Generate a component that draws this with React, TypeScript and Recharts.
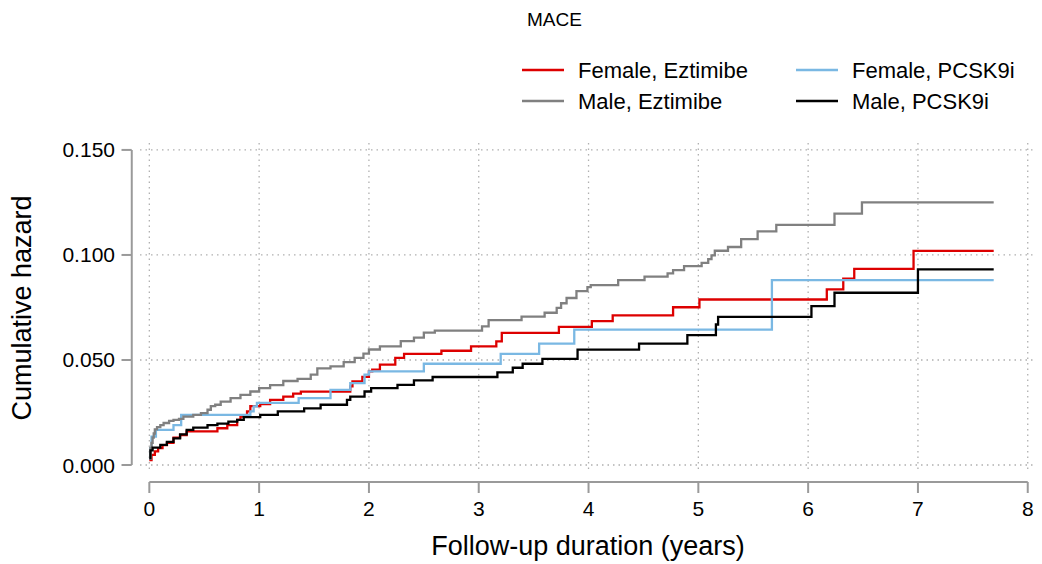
import React from 'react';
import { LineChart, Line, XAxis, YAxis, CartesianGrid, ReferenceLine, Label } from 'recharts';

// ---------- data ----------
const femEzeT = [0, 0.02, 0.05, 0.08, 0.12, 0.16, 0.22, 0.28, 0.34, 0.62, 0.71, 0.8, 0.83, 0.89, 0.92, 1.01, 1.1, 1.22, 1.31, 1.38, 1.83, 1.85, 1.94, 2.0, 2.03, 2.1, 2.24, 2.32, 2.66, 2.93, 3.16, 3.21, 3.73, 4.03, 4.22, 4.77, 5.01, 6.17, 6.32, 6.42, 6.96, 7.69];
const femEzeH = [0.0024, 0.0048, 0.0065, 0.008, 0.0095, 0.0105, 0.013, 0.0143, 0.016, 0.0175, 0.019, 0.0215, 0.023, 0.0255, 0.028, 0.029, 0.031, 0.0326, 0.034, 0.0349, 0.0374, 0.0398, 0.042, 0.0446, 0.0454, 0.0478, 0.051, 0.0529, 0.0544, 0.0565, 0.0589, 0.0629, 0.0658, 0.0685, 0.0712, 0.0751, 0.0788, 0.0836, 0.0887, 0.0934, 0.1019, 0.1019];

const femPcskT = [0, 0.01, 0.02, 0.06, 0.22, 0.29, 0.92, 0.95, 0.98, 1.36, 1.65, 1.83, 1.96, 2.0, 2.5, 3.2, 3.55, 3.87, 5.67, 7.69];
const femPcskH = [0.003, 0.008, 0.0135, 0.0167, 0.019, 0.0239, 0.0255, 0.0279, 0.0296, 0.0318, 0.0358, 0.039, 0.043, 0.0446, 0.0482, 0.0529, 0.0578, 0.0645, 0.088, 0.088];

const maleEzeT = [0, 0.01, 0.02, 0.03, 0.04, 0.05, 0.07, 0.1, 0.13, 0.18, 0.22, 0.27, 0.31, 0.4, 0.47, 0.53, 0.56, 0.6, 0.65, 0.74, 0.83, 0.92, 1.0, 1.1, 1.22, 1.35, 1.47, 1.53, 1.65, 1.77, 1.87, 1.95, 2.0, 2.1, 2.29, 2.41, 2.5, 2.6, 3.03, 3.09, 3.39, 3.6, 3.71, 3.75, 3.8, 3.89, 3.99, 4.02, 4.27, 4.51, 4.72, 4.77, 4.87, 5.03, 5.09, 5.12, 5.15, 5.27, 5.39, 5.54, 5.71, 6.24, 6.49, 7.69];
const maleEzeH = [0.003, 0.008, 0.0105, 0.013, 0.015, 0.017, 0.018, 0.019, 0.02, 0.021, 0.0215, 0.022, 0.023, 0.0239, 0.0247, 0.0263, 0.028, 0.0287, 0.0302, 0.0318, 0.0334, 0.035, 0.0366, 0.038, 0.04, 0.041, 0.043, 0.046, 0.047, 0.049, 0.051, 0.053, 0.055, 0.0565, 0.059, 0.0606, 0.063, 0.064, 0.066, 0.069, 0.0706, 0.0725, 0.0748, 0.077, 0.0795, 0.0828, 0.0847, 0.0856, 0.088, 0.0897, 0.0912, 0.0928, 0.0947, 0.0962, 0.098, 0.0998, 0.102, 0.1038, 0.1075, 0.1112, 0.1143, 0.1197, 0.125, 0.125];

const malePcskT = [0, 0.01, 0.03, 0.1, 0.16, 0.22, 0.28, 0.34, 0.4, 0.53, 0.62, 0.72, 0.8, 0.86, 1.01, 1.17, 1.41, 1.56, 1.8, 1.83, 1.96, 2.02, 2.26, 2.41, 2.58, 3.17, 3.31, 3.4, 3.58, 3.9, 4.46, 4.9, 5.16, 5.18, 6.03, 6.24, 7.0, 7.69];
const malePcskH = [0.0033, 0.007, 0.0083, 0.0096, 0.011, 0.0127, 0.0146, 0.0167, 0.0178, 0.019, 0.0197, 0.0207, 0.0215, 0.0228, 0.0239, 0.0255, 0.027, 0.0287, 0.031, 0.0326, 0.035, 0.0366, 0.0382, 0.0403, 0.0419, 0.0441, 0.0463, 0.0482, 0.0505, 0.0549, 0.0578, 0.0618, 0.0669, 0.0705, 0.0756, 0.082, 0.0931, 0.0931];

const xTicks = [0, 1, 2, 3, 4, 5, 6, 7, 8];
const yTicks = [0, 0.05, 0.1, 0.15];

const seriesNames = ['Female, Eztimibe', 'Female, PCSK9i', 'Male, Eztimibe', 'Male, PCSK9i'];
const seriesColors = ['#dd0000', '#7ab8e3', '#808080', '#000000'];

const legendTitle = 'MACE';
const xTitle = 'Follow-up duration (years)';
const yTitle = 'Cumulative hazard';

// ---------- build ----------
const zip = (t: number[], h: number[]) => t.map((v, i) => ({ t: v, h: h[i] }));
const series = [
  { name: seriesNames[0], color: seriesColors[0], data: zip(femEzeT, femEzeH) },
  { name: seriesNames[1], color: seriesColors[1], data: zip(femPcskT, femPcskH) },
  { name: seriesNames[2], color: seriesColors[2], data: zip(maleEzeT, maleEzeH) },
  { name: seriesNames[3], color: seriesColors[3], data: zip(malePcskT, malePcskH) },
];

const FONT = '"Liberation Sans", Arial, Helvetica, sans-serif';
const AXIS_COLOR = '#9a9a9a';
const X_DOMAIN: [number, number] = [-0.085, 8.057];
const Y_DOMAIN: [number, number] = [-0.0038, 0.1533];
const X_AXIS_LINE_AT = -0.0081; // y value where the detached x axis line sits
const Y_AXIS_LINE_AT = -0.16; // x value where the detached y axis line sits

const scaleOf = (axis: any) => {
  if (!axis) return null;
  const s = axis.scale;
  if (typeof s === 'function') return s;
  if (s && typeof s.map === 'function') return (v: number) => s.map(v);
  return null;
};

const XTick = (props: any) => {
  const { x, y, payload } = props;
  return (
    <g>
      <line x1={x} x2={x} y1={y + 9} y2={y + 20} stroke={AXIS_COLOR} strokeWidth={2} />
      <text x={x} y={y + 43} textAnchor="middle" fontSize={21} fill="#000" fontFamily={FONT}>
        {payload.value}
      </text>
    </g>
  );
};

const YTick = (props: any) => {
  const { x, y, payload } = props;
  return (
    <g>
      <line x1={x - 8.3} x2={x - 18.5} y1={y} y2={y} stroke={AXIS_COLOR} strokeWidth={2} />
      <text x={x - 25} y={y} textAnchor="end" dominantBaseline="central" fontSize={21} fill="#000" fontFamily={FONT}>
        {Number(payload.value).toFixed(3)}
      </text>
    </g>
  );
};

const XTitle = (props: any) => {
  const vb = props.viewBox || { x: 140, y: 473, width: 894, height: 90 };
  return (
    <text x={vb.x + vb.width / 2 + 1} y={vb.y + 82} textAnchor="middle" fontSize={27} fill="#000" fontFamily={FONT}>
      {xTitle}
    </text>
  );
};

const YTitle = (props: any) => {
  const vb = props.viewBox || { x: 40, y: 143, width: 100, height: 330 };
  const cx = 22;
  const cy = vb.y + vb.height / 2;
  return (
    <text
      x={cx}
      y={cy}
      transform={`rotate(-90 ${cx} ${cy})`}
      textAnchor="middle"
      dominantBaseline="central"
      fontSize={27}
      fill="#000"
      fontFamily={FONT}
    >
      {yTitle}
    </text>
  );
};

export default function App() {
  return (
    <div style={{ position: 'absolute', left: 0, top: 0, width: 1042, height: 564, background: '#fff', fontFamily: FONT }}>
      <LineChart width={1042} height={564} margin={{ top: 143, right: 8, bottom: 1, left: 40 }}>
        <CartesianGrid
          stroke="#b0b0b0"
          strokeDasharray="1.5 4"
          strokeWidth={1.3}
          verticalCoordinatesGenerator={(p: any) => {
            const s = scaleOf(p.xAxis);
            return s ? xTicks.map((v) => s(v)) : [];
          }}
          horizontalCoordinatesGenerator={(p: any) => {
            const s = scaleOf(p.yAxis);
            return s ? yTicks.map((v) => s(v)) : [];
          }}
        />
        <XAxis
          type="number"
          dataKey="t"
          domain={X_DOMAIN}
          ticks={xTicks}
          interval={0}
          allowDataOverflow
          axisLine={false}
          tickLine={false}
          tickSize={0}
          tickMargin={0}
          height={90}
          tick={(p: any) => <XTick {...p} />}
        >
          <Label content={XTitle} />
        </XAxis>
        <YAxis
          type="number"
          domain={Y_DOMAIN}
          ticks={yTicks}
          interval={0}
          allowDataOverflow
          axisLine={false}
          tickLine={false}
          tickSize={0}
          tickMargin={0}
          width={100}
          tick={(p: any) => <YTick {...p} />}
        >
          <Label content={YTitle} />
        </YAxis>
        <ReferenceLine
          segment={[{ x: xTicks[0], y: X_AXIS_LINE_AT }, { x: xTicks[xTicks.length - 1], y: X_AXIS_LINE_AT }]}
          stroke={AXIS_COLOR}
          strokeWidth={2}
          ifOverflow="visible"
        />
        <ReferenceLine
          segment={[{ x: Y_AXIS_LINE_AT, y: yTicks[0] }, { x: Y_AXIS_LINE_AT, y: yTicks[yTicks.length - 1] }]}
          stroke={AXIS_COLOR}
          strokeWidth={2}
          ifOverflow="visible"
        />
        {series.map((s) => (
          <Line
            key={s.name}
            name={s.name}
            data={s.data}
            dataKey="h"
            type="stepAfter"
            stroke={s.color}
            strokeWidth={2.3}
            dot={false}
            activeDot={false}
            isAnimationActive={false}
          />
        ))}
      </LineChart>
      <svg style={{ position: 'absolute', left: 0, top: 0 }} width={1042} height={125}>
        <text x={527} y={19} dominantBaseline="central" fontSize={19} fill="#000" fontFamily={FONT}>
          {legendTitle}
        </text>
        {series.map((s, i) => {
          const col = i % 2;
          const row = Math.floor(i / 2);
          const lx = 522 + col * 274;
          const ly = 70 + row * 31;
          return (
            <g key={s.name}>
              <line x1={lx} x2={lx + 42} y1={ly} y2={ly} stroke={s.color} strokeWidth={2.5} />
              <text x={lx + 56} y={ly} dominantBaseline="central" fontSize={22} fill="#000" fontFamily={FONT}>
                {s.name}
              </text>
            </g>
          );
        })}
      </svg>
    </div>
  );
}
